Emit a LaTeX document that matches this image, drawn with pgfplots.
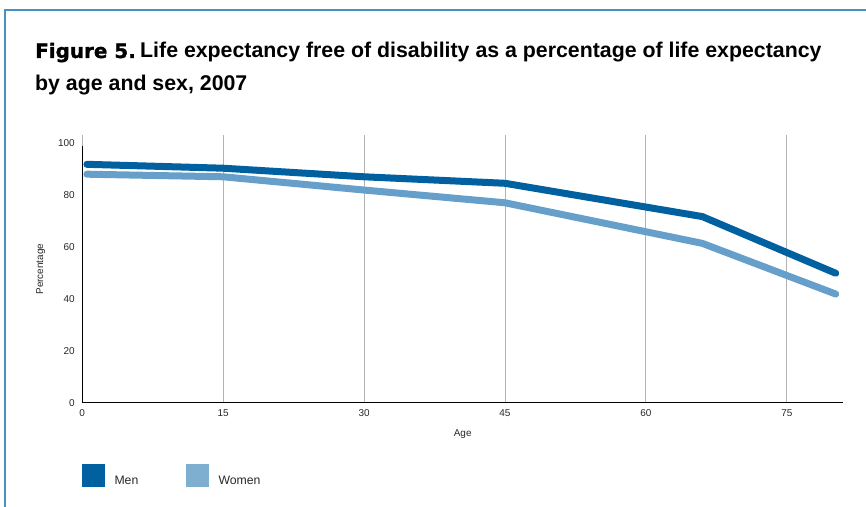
\documentclass[border=0pt]{standalone}
\usepackage{pgfplots}
\pgfplotsset{compat=1.18}
\usepackage{fontspec}
\setmainfont{Liberation Sans}
\newfontfamily\heavyfont[FakeBold=1.2]{DejaVu Sans Bold}
\definecolor{frameblue}{RGB}{74,144,194}
\definecolor{menblue}{RGB}{0,96,160}
\definecolor{womenblue}{RGB}{102,160,202}
\definecolor{womenbox}{RGB}{126,175,208}
\definecolor{txtgray}{RGB}{40,40,40}
\begin{document}
\begin{tikzpicture}[x=1bp,y=1bp]
\useasboundingbox (0,0) rectangle (866,507);
% frame (clipped at right/bottom)
\begin{scope}
\clip (0,0) rectangle (866,507);
\draw[frameblue, line width=2bp] (4.7,-10) -- (4.7,507-9.7) -- (900,507-9.7);
\end{scope}
% title
\node[anchor=base west, inner sep=0pt] at (35,507-58) {\fontsize{20}{24}\selectfont\heavyfont Figure 5.};
\node[anchor=base west, inner sep=0pt] at (140,507-58) {\fontsize{21.4}{24}\selectfont\bfseries Life expectancy free of disability as a percentage of life expectancy};
\node[anchor=base west, inner sep=0pt] at (35,507-91) {\fontsize{21.4}{24}\selectfont\bfseries by age and sex, 2007};
\begin{axis}[
  at={(82.2bp,104bp)}, anchor=south west,
  scale only axis, width=761bp, height=267.8bp,
  xmin=0, xmax=81, ymin=0, ymax=103,
  axis x line=bottom, axis y line=left,
  y axis line style={draw=none},
  axis line style={-, black, line width=1pt},
  xtick={0,15,30,45,60,75}, ytick={0,20,40,60,80,100},
  major tick length=0pt,
  xmajorgrids, grid style={gray!60, line width=0.9pt},
  ticklabel style={font=\fontsize{10}{12}\selectfont, text=txtgray},
  /pgf/number format/assume math mode=true,
  xticklabel style={yshift=-3bp},
  yticklabel style={xshift=-4bp},
  xlabel={Age}, ylabel={Percentage},
  label style={font=\fontsize{10}{12}\selectfont, text=txtgray},
  xlabel style={yshift=-6bp},
  ylabel style={yshift=6bp},
  clip=false,
]
\draw[black, line width=1pt] (axis cs:0,0) -- (axis cs:0,98.8);
\addplot[womenblue, line width=7bp, line cap=round, line join=round] coordinates {
 (0.5,88.0) (15,87.0) (30,81.9) (45,77.0) (66,61.4) (80.2,41.9)};
\addplot[menblue, line width=7bp, line cap=round, line join=round] coordinates {
 (0.5,91.8) (15,90.3) (30,87.0) (45,84.5) (66,71.7) (80.2,49.9)};
\end{axis}
% legend
\fill[menblue] (82.3,507-486.7) rectangle (105,507-464.3);
\node[anchor=base west, inner sep=0pt, text=txtgray] at (114.3,507-485) {\fontsize{12.3}{14}\selectfont Men};
\fill[womenbox] (186,507-486.7) rectangle (209,507-464.3);
\node[anchor=base west, inner sep=0pt, text=txtgray] at (218.3,507-485) {\fontsize{12.3}{14}\selectfont Women};
\end{tikzpicture}
\end{document}
